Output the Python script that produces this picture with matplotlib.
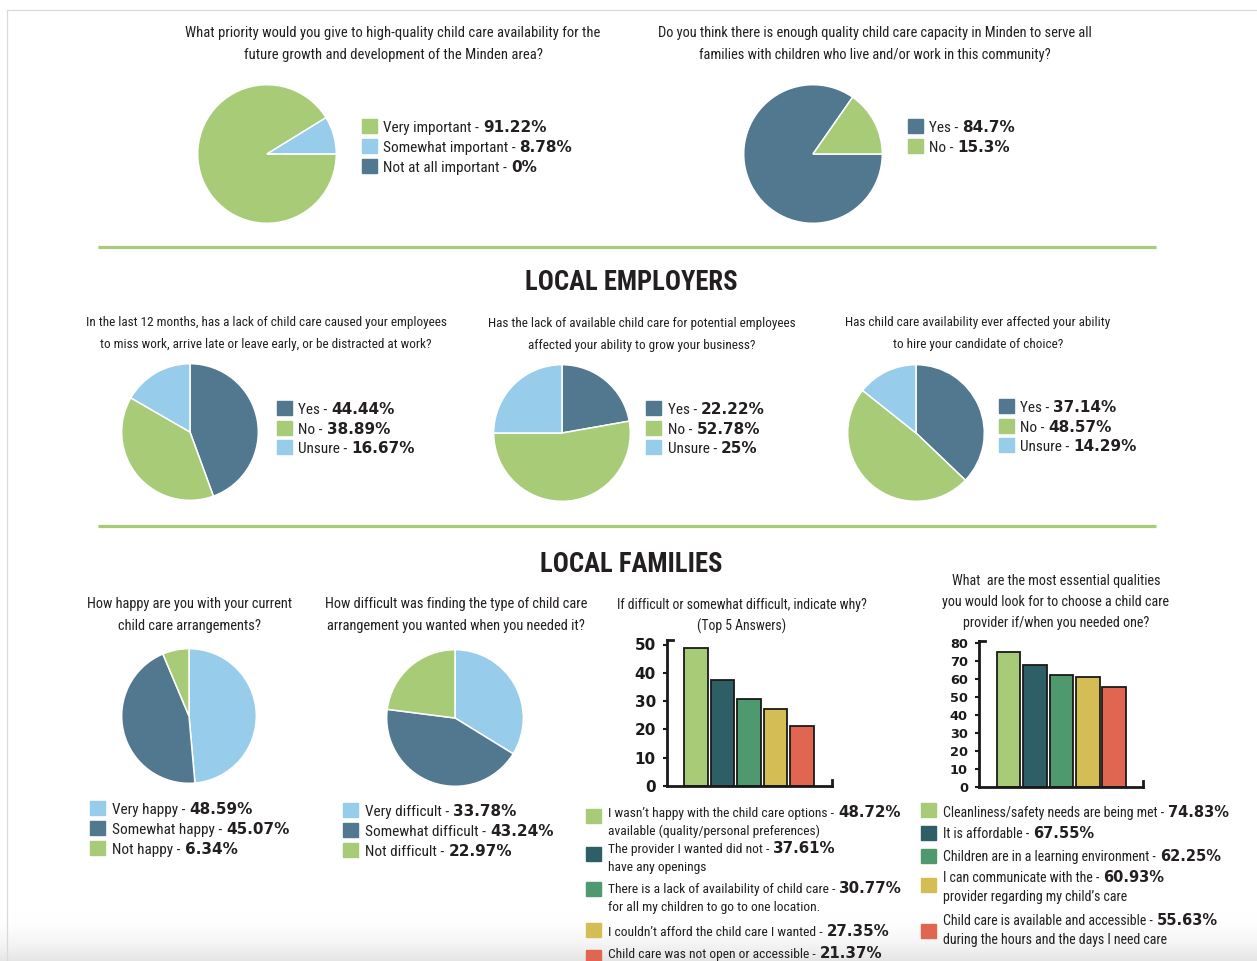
import numpy as np
import matplotlib
matplotlib.use("Agg")
import matplotlib.pyplot as plt
from matplotlib import font_manager
from matplotlib.patches import Rectangle
from matplotlib.colors import LinearSegmentedColormap

W, H = 1257, 961

LIGHT_GREEN = "#A8CB78"
LIGHT_BLUE = "#97CCEA"
SLATE = "#52788F"
TEAL = "#2E5E66"
MID_GREEN = "#4E9A6E"
MUSTARD = "#D4BD55"
CORAL = "#E06651"
INK = "#231F20"
RULE = "#A8CB78"

# ---- data ----
priority_labels = ["Very important", "Somewhat important", "Not at all important"]
priority_values = [91.22, 8.78, 0.0]

capacity_labels = ["Yes", "No"]
capacity_values = [84.7, 15.3]

missed_work_values = [44.44, 38.89, 16.67]
grow_business_values = [22.22, 52.78, 25.0]
hire_choice_values = [37.14, 48.57, 14.29]
employer_labels = ["Yes", "No", "Unsure"]

happy_labels = ["Very happy", "Somewhat happy", "Not happy"]
happy_values = [48.59, 45.07, 6.34]

difficult_labels = ["Very difficult", "Somewhat difficult", "Not difficult"]
difficult_values = [33.78, 43.24, 22.97]

why_lines = [
    ["I wasn\u2019t happy with the child care options", "available (quality/personal preferences)"],
    ["The provider I wanted did not", "have any openings"],
    ["There is a lack of availability of child care", "for all my children to go to one location."],
    ["I couldn\u2019t afford the child care I wanted"],
    ["Child care was not open or accessible"],
]
why_values = [48.72, 37.61, 30.77, 27.35, 21.37]
why_ticks = [0, 10, 20, 30, 40, 50]

quality_lines = [
    ["Cleanliness/safety needs are being met"],
    ["It is affordable"],
    ["Children are in a learning environment"],
    ["I can communicate with the", "provider regarding my child\u2019s care"],
    ["Child care is available and accessible", "during the hours and the days I need care"],
]
quality_values = [74.83, 67.55, 62.25, 60.93, 55.63]
quality_ticks = [0, 10, 20, 30, 40, 50, 60, 70, 80]

bar_colors = [LIGHT_GREEN, TEAL, MID_GREEN, MUSTARD, CORAL]


def pick(fams):
    for f in fams:
        try:
            font_manager.findfont(font_manager.FontProperties(family=f), fallback_to_default=False)
            return f
        except ValueError:
            pass
    return "DejaVu Sans"


COND = pick(["Liberation Sans Narrow", "Roboto Condensed", "DejaVu Sans"])
NUM = "DejaVu Sans"

fig = plt.figure(figsize=(W / 100, H / 100), dpi=100)
fig.patch.set_facecolor("white")
renderer = fig.canvas.get_renderer()

ov = fig.add_axes([0, 0, 1, 1], zorder=0)
ov.axis("off")

# soft shadow at the bottom of the page
fade = LinearSegmentedColormap.from_list("fade", [(1, 1, 1, 0), (0.9, 0.9, 0.9, 1)])
ov.imshow(np.linspace(0, 1, 60)[:, None], extent=(0, W, H, 912), cmap=fade,
          aspect="auto", zorder=0, interpolation="bilinear")
ov.set_xlim(0, W)
ov.set_ylim(H, 0)

# page border
ov.plot([7, 7, W], [H, 10, 10], color="#DADADA", lw=0.9, zorder=1)

# green rules
for y in (247, 526):
    ov.plot([98, 1156], [y, y], color=RULE, lw=2.3, solid_capstyle="butt", zorder=1)


def title(cx, baselines, lines, size=10.2):
    for yb, s in zip(baselines, lines):
        ov.text(cx, yb, s, ha="center", va="baseline", fontsize=size,
                family=COND, color=INK, zorder=3)


def rich(x, y, reg, bold, size=11, bsize=11):
    t = ov.text(x, y, reg, fontsize=size, family=COND, va="baseline", color=INK, zorder=3)
    x1 = t.get_window_extent(renderer).x1
    ov.text(x1 + 4, y, bold, fontsize=bsize, family=NUM, fontweight="bold",
            va="baseline", color=INK, zorder=3)


def legend(sq_x, txt_x, centers, baselines, colors, lines, values, gap=18, size=11, bsize=11):
    for c, yc, yb, ls, v in zip(colors, centers, baselines, lines, values):
        ov.add_patch(Rectangle((sq_x, yc - 7), 15, 14, color=c, zorder=2))
        rich(txt_x, yb, ls[0] + " -", f"{v:g}%", size=size, bsize=bsize)
        for k, extra in enumerate(ls[1:], 1):
            ov.text(txt_x, yb + k * gap, extra, fontsize=size, family=COND,
                    va="baseline", color=INK, zorder=3)


def pie_at(cx, cy, r, values, colors, start):
    ax = fig.add_axes([(cx - r) / W, 1 - (cy + r) / H, 2 * r / W, 2 * r / H], zorder=2)
    ax.pie(values, colors=colors, startangle=start, counterclock=False,
           wedgeprops=dict(edgecolor="white", linewidth=1.1))
    ax.set_xlim(-1.01, 1.01)
    ax.set_ylim(-1.01, 1.01)
    return ax


def bars_at(left, right, zero, top, scale, values, ticks, xlim, tsize):
    ymax = (zero - top) / scale
    ax = fig.add_axes([left / W, 1 - zero / H, (right - left) / W, (zero - top) / H], zorder=2)
    ax.set_facecolor("none")
    ax.bar(range(len(values)), values, width=0.9, color=bar_colors,
           edgecolor="#1A1A1A", linewidth=1.3, zorder=2)
    ax.set_xlim(*xlim)
    ax.set_ylim(0, ymax)
    ax.set_yticks(ticks)
    ax.set_xticks([])
    for s in ("top", "right"):
        ax.spines[s].set_visible(False)
    for s in ("left", "bottom"):
        ax.spines[s].set_linewidth(2)
        ax.spines[s].set_color("#1A1A1A")
    ax.tick_params(axis="y", length=3, width=1.5, pad=5, labelsize=tsize, colors="#1A1A1A")
    for lab in ax.get_yticklabels():
        lab.set_fontweight("bold")
        lab.set_family(NUM)
    # end hooks on the axes
    ax.plot([0, 0.035], [1, 1], transform=ax.transAxes, color="#1A1A1A", lw=2, clip_on=False)
    ax.plot([1, 1], [0, 0.04], transform=ax.transAxes, color="#1A1A1A", lw=2, clip_on=False)
    return ax


# ---------- top section ----------
title(393, [37, 59], ["What priority would you give to high-quality child care availability for the",
                      "future growth and development of the Minden area?"], size=10.5)
title(875, [37, 59], ["Do you think there is enough quality child care capacity in Minden to serve all",
                      "families with children who live and/or work in this community?"], size=10.4)

pie_at(267, 154, 70, priority_values, [LIGHT_GREEN, LIGHT_BLUE, SLATE], 0)
legend(362, 383, [126, 146, 166], [132, 152, 172], [LIGHT_GREEN, LIGHT_BLUE, SLATE],
       [[s] for s in priority_labels], priority_values)

pie_at(813, 154, 70, capacity_values, [SLATE, LIGHT_GREEN], 0)
legend(908, 929, [126, 146], [132, 152], [SLATE, LIGHT_GREEN],
       [[s] for s in capacity_labels], capacity_values)

# ---------- local employers ----------
ov.text(631, 290, "LOCAL EMPLOYERS", ha="center", va="baseline", fontsize=19.2,
        fontweight="bold", family=COND, color=INK)

emp_colors = [SLATE, LIGHT_GREEN, LIGHT_BLUE]
title(266, [326, 348], ["In the last 12 months, has a lack of child care caused your employees",
                        "to miss work, arrive late or leave early, or be distracted at work?"], size=9.5)
title(642, [327, 349], ["Has the lack of available child care for potential employees",
                        "affected your ability to grow your business?"], size=9.5)
title(978, [326, 348], ["Has child care availability ever affected your ability",
                        "to hire your candidate of choice?"], size=9.5)

pie_at(190, 432, 69, missed_work_values, emp_colors, 90)
legend(277, 298, [408, 428, 447], [414, 434, 453], emp_colors,
       [[s] for s in employer_labels], missed_work_values)

pie_at(562, 433, 69, grow_business_values, emp_colors, 90)
legend(646, 668, [408, 428, 447], [414, 434, 453], emp_colors,
       [[s] for s in employer_labels], grow_business_values)

pie_at(916, 433, 69, hire_choice_values, emp_colors, 90)
legend(999, 1020, [406, 426, 445], [412, 432, 451], emp_colors,
       [[s] for s in employer_labels], hire_choice_values)

# ---------- local families ----------
ov.text(631, 572, "LOCAL FAMILIES", ha="center", va="baseline", fontsize=19.2,
        fontweight="bold", family=COND, color=INK)

fam_colors = [LIGHT_BLUE, SLATE, LIGHT_GREEN]
title(190, [608, 630], ["How happy are you with your current", "child care arrangements?"], size=10.4)
title(456, [608, 630], ["How difficult was finding the type of child care",
                        "arrangement you wanted when you needed it?"], size=10.4)
title(742, [609, 631], ["If difficult or somewhat difficult, indicate why?", "(Top 5 Answers)"], size=9.9)
title(1056, [585, 606, 627], ["What  are the most essential qualities",
                              "you would look for to choose a child care",
                              "provider if/when you needed one?"], size=10.2)

pie_at(189, 716, 68, happy_values, fam_colors, 90)
legend(90, 112, [808, 828, 848], [814, 834, 854], fam_colors,
       [[s] for s in happy_labels], happy_values)

pie_at(455, 718, 69, difficult_values, fam_colors, 90)
legend(343, 365, [810, 830, 850], [816, 836, 856], fam_colors,
       [[s] for s in difficult_labels], difficult_values)

bars_at(667, 832, 786, 640, 2.83, why_values, why_ticks, (-1.09, 5.13), 11)
legend(586, 608, [816, 854, 889, 930, 957], [817, 853, 893, 936, 958], bar_colors,
       why_lines, why_values, gap=18, size=9.7, bsize=10.8)

bars_at(979, 1143, 787, 641, 1.80, quality_values, quality_ticks, (-1.12, 5.09), 9.3)
legend(921, 943, [810, 833, 856, 885, 931], [817, 838, 861, 882, 925], bar_colors,
       quality_lines, quality_values, gap=19, size=10, bsize=10.5)

fig.savefig("out.png", dpi=100, facecolor="white")
